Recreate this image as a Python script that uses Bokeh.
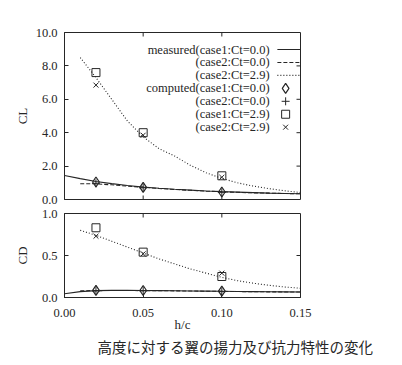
from bokeh.plotting import figure
from bokeh.layouts import column
from bokeh.models import FixedTicker, PrintfTickFormatter, Title, Range1d
from bokeh.core.properties import value
from bokeh.embed import file_html
from bokeh.resources import INLINE

# ---------------- data ----------------
h_meas_c1 = [0.00, 0.01, 0.02, 0.03, 0.04, 0.05, 0.06, 0.07, 0.08, 0.09, 0.10, 0.11, 0.12, 0.13, 0.14, 0.15]
h_meas_c2 = [0.01, 0.02, 0.03, 0.04, 0.05, 0.06, 0.07, 0.08, 0.09, 0.10, 0.11, 0.12, 0.13, 0.14, 0.15]

cl_meas_c1_ct00 = [1.44, 1.25, 1.08, 0.95, 0.84, 0.74, 0.67, 0.61, 0.56, 0.51, 0.47, 0.44, 0.41, 0.38, 0.36, 0.34]
cl_meas_c2_ct00 = [0.94, 0.94, 0.88, 0.80, 0.73, 0.66, 0.60, 0.55, 0.50, 0.46, 0.43, 0.40, 0.38, 0.36, 0.34]
cl_meas_c2_ct29 = [8.50, 7.30, 6.00, 4.70, 3.75, 3.05, 2.60, 2.05, 1.60, 1.26, 1.00, 0.80, 0.65, 0.52, 0.42]

cd_meas_c1_ct00 = [0.045, 0.070, 0.082, 0.085, 0.085, 0.083, 0.082, 0.080, 0.078, 0.076, 0.074, 0.072, 0.070, 0.068, 0.067, 0.066]
cd_meas_c2_ct00 = [0.080, 0.082, 0.083, 0.083, 0.082, 0.081, 0.079, 0.077, 0.075, 0.073, 0.071, 0.069, 0.067, 0.066, 0.065]
cd_meas_c2_ct29 = [0.80, 0.74, 0.67, 0.60, 0.53, 0.46, 0.40, 0.34, 0.29, 0.24, 0.20, 0.17, 0.145, 0.125, 0.11]

h_comp = [0.02, 0.05, 0.10]
cl_comp_c1_ct00 = [1.05, 0.73, 0.45]
cl_comp_c2_ct00 = [0.97, 0.70, 0.43]
cl_comp_c1_ct29 = [7.60, 4.00, 1.42]
cl_comp_c2_ct29 = [6.85, 3.85, 1.33]
cd_comp_c1_ct00 = [0.085, 0.083, 0.075]
cd_comp_c2_ct00 = [0.080, 0.080, 0.070]
cd_comp_c1_ct29 = [0.83, 0.54, 0.25]
cd_comp_c2_ct29 = [0.73, 0.52, 0.29]

x_ticks = [0.0, 0.05, 0.10, 0.15]
cl_ticks = [0, 2, 4, 6, 8, 10]
cd_ticks = [0.0, 0.5, 1.0]

legend_labels = ["measured(case1:Ct=0.0)", "(case2:Ct=0.0)", "(case2:Ct=2.9)",
                 "computed(case1:Ct=0.0)", "(case2:Ct=0.0)", "(case1:Ct=2.9)", "(case2:Ct=2.9)"]
x_label = "h/c"
cl_label = "CL"
cd_label = "CD"
caption = "高度に対する翼の揚力及び抗力特性の変化"

# ---------------- style ----------------
SERIF = "Liberation Serif"
INK = "#262626"
FONT_PX = "12.5px"
DASH = "4 2"
DOT = "1 2"
TICK_PX = 4
FW = 236


def make_fig(y_end, yticks, ylabel, fh, mb_top, mb_bottom, ylab_standoff, show_x):
    p = figure(frame_width=FW, frame_height=fh, x_range=Range1d(0, 0.15),
               y_range=Range1d(0, y_end), output_backend="svg", toolbar_location=None,
               min_border_left=64, min_border_right=86, min_border_top=mb_top,
               min_border_bottom=mb_bottom)
    p.background_fill_color = "white"
    p.border_fill_color = "white"
    p.outline_line_color = INK
    p.outline_line_width = 1
    p.xgrid.visible = False
    p.ygrid.visible = False
    for ax in (p.xaxis[0], p.yaxis[0]):
        ax.major_tick_in = TICK_PX
        ax.major_tick_out = 0
        ax.minor_tick_in = 0
        ax.minor_tick_out = 0
        ax.axis_line_color = INK
        ax.major_tick_line_color = INK
        ax.major_label_text_font = SERIF
        ax.major_label_text_font_size = FONT_PX
        ax.major_label_text_color = INK
        ax.axis_label_text_font = SERIF
        ax.axis_label_text_font_size = "13px"
        ax.axis_label_text_font_style = "normal"
        ax.axis_label_text_color = INK
    p.xaxis.ticker = FixedTicker(ticks=x_ticks)
    p.xaxis.formatter = PrintfTickFormatter(format="%.2f")
    p.yaxis.ticker = FixedTicker(ticks=yticks)
    p.yaxis.formatter = PrintfTickFormatter(format="%.1f")
    p.yaxis.axis_label = ylabel
    p.yaxis.major_label_standoff = 7
    p.yaxis.axis_label_standoff = ylab_standoff
    if show_x:
        p.xaxis.major_label_standoff = 11
        p.xaxis.axis_label = x_label
        p.xaxis.axis_label_standoff = -3
    else:
        p.xaxis.visible = False
    # mirrored inner ticks (gnuplot style border ticks)
    x_end = p.x_range.end
    dy = TICK_PX * y_end / fh
    dx = TICK_PX * x_end / FW
    inner = x_ticks[1:-1]
    p.segment(x0=inner, y0=[y_end] * len(inner), x1=inner, y1=[y_end - dy] * len(inner),
              line_color=INK, line_width=1)
    if not show_x:
        p.segment(x0=inner, y0=[0] * len(inner), x1=inner, y1=[dy] * len(inner),
                  line_color=INK, line_width=1)
    yin = yticks[1:-1]
    p.segment(x0=[x_end] * len(yin), y0=yin, x1=[x_end - dx] * len(yin), y1=yin,
              line_color=INK, line_width=1)
    return p


top = make_fig(10, cl_ticks, cl_label, 167, 32, 7, 3, False)
bot = make_fig(1, cd_ticks, cd_label, 84, 7, 0, 9, True)

LW = 1.1

# ---- CL panel ----
top.line(h_meas_c1, cl_meas_c1_ct00, line_color=INK, line_width=LW)
top.line(h_meas_c2, cl_meas_c2_ct00, line_color=INK, line_width=LW, line_dash=DASH)
top.line(h_meas_c2, cl_meas_c2_ct29, line_color=INK, line_width=LW, line_dash=DOT)
top.scatter(h_comp, cl_comp_c1_ct00, marker="diamond", size=10, fill_color=None, line_color=INK, line_width=1.2)
top.scatter(h_comp, cl_comp_c2_ct00, marker="cross", size=8, line_color=INK, line_width=1)
top.scatter(h_comp, cl_comp_c1_ct29, marker="square", size=8, fill_color=None, line_color=INK, line_width=1)
top.scatter(h_comp, cl_comp_c2_ct29, marker="x", size=7, line_color=INK, line_width=1)

# ---- CD panel ----
bot.line(h_meas_c1, cd_meas_c1_ct00, line_color=INK, line_width=LW)
bot.line(h_meas_c2, cd_meas_c2_ct00, line_color=INK, line_width=LW, line_dash=DASH)
bot.line(h_meas_c2, cd_meas_c2_ct29, line_color=INK, line_width=LW, line_dash=DOT)
bot.scatter(h_comp, cd_comp_c1_ct00, marker="diamond", size=10, fill_color=None, line_color=INK, line_width=1.2)
bot.scatter(h_comp, cd_comp_c2_ct00, marker="cross", size=8, line_color=INK, line_width=1)
bot.scatter(h_comp, cd_comp_c1_ct29, marker="square", size=8, fill_color=None, line_color=INK, line_width=1)
bot.scatter(h_comp, cd_comp_c2_ct29, marker="x", size=7, line_color=INK, line_width=1)

# ---- legend (gnuplot style: right-aligned text, key sample on the right) ----
x_end = top.x_range.end
leg_text_x = x_end * 0.869
leg_s0 = x_end * 0.902
leg_mark_x = x_end * 0.937
row_y = [top.y_range.end * (0.898 - 0.0775 * i) for i in range(len(legend_labels))]

top.text(x=[leg_text_x] * len(legend_labels), y=row_y, text=legend_labels,
         text_align="right", text_baseline="middle", text_font=value(SERIF),
         text_font_size=FONT_PX, text_color=INK)
top.line([leg_s0, x_end], [row_y[0]] * 2, line_color=INK, line_width=LW)
top.line([leg_s0, x_end], [row_y[1]] * 2, line_color=INK, line_width=LW, line_dash=DASH)
top.line([leg_s0, x_end], [row_y[2]] * 2, line_color=INK, line_width=LW, line_dash=DOT)
top.scatter([leg_mark_x], [row_y[3]], marker="diamond", size=10, fill_color=None, line_color=INK, line_width=1.2)
top.scatter([leg_mark_x], [row_y[4]], marker="cross", size=8, line_color=INK, line_width=1)
top.scatter([leg_mark_x], [row_y[5]], marker="square", size=8, fill_color=None, line_color=INK, line_width=1)
top.scatter([leg_mark_x], [row_y[6]], marker="x", size=7, line_color=INK, line_width=1)

# ---- caption ----
bot.add_layout(Title(text=caption, align="left", offset=33, standoff=-2,
                     text_font="Noto Sans CJK JP", text_font_size="14.5px",
                     text_font_style="normal", text_color=INK), "below")

layout = column(top, bot, spacing=0)
open("out.html", "w").write(file_html(layout, INLINE))
